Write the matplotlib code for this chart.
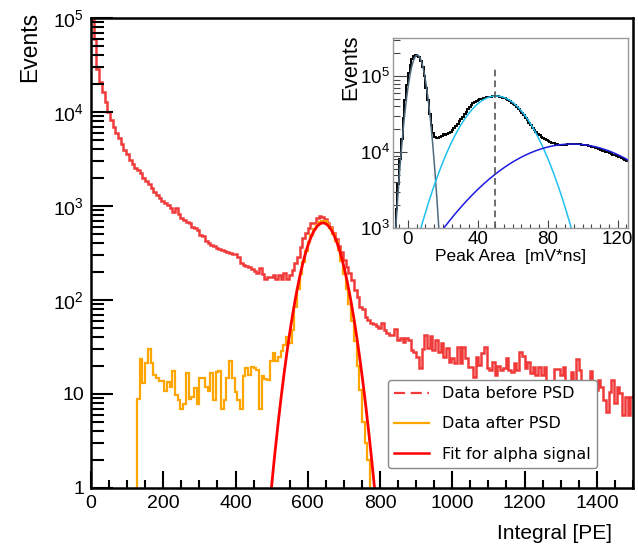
import numpy as np
import matplotlib.pyplot as plt
from matplotlib.lines import Line2D
from matplotlib.ticker import FixedLocator, MultipleLocator, LogLocator, NullFormatter

plt.rcParams['font.family'] = ['Liberation Sans', 'DejaVu Sans']
plt.rcParams['mathtext.fontset'] = 'custom'
plt.rcParams['mathtext.rm'] = 'Liberation Sans'
plt.rcParams['mathtext.it'] = 'Liberation Sans:italic'

# integral spectrum: 200 bins of 7.5 PE from 0 to 1500
bin_width = 7.5
before_psd = [
    95000, 60000, 29000, 21000, 16300, 12800, 10000, 8200, 6900, 6000,
    5300, 4600, 3900, 3600, 3100, 2800, 2540, 2400, 2240, 1990,
    1850, 1710, 1550, 1410, 1310, 1220, 1130, 1080, 1020, 953,
    863, 953, 822, 745, 708, 676, 660, 598, 584, 556,
    492, 480, 425, 404,
    385, 375, 357, 349, 340, 332, 324, 316, 312,
    308, 287, 248, 236, 230, 224, 214, 204, 194, 219,
    189, 167, 176, 176, 185, 167, 185, 167, 194, 167,
    185, 208, 248, 287, 366, 457, 516, 584, 660, 660,
    745, 783, 764, 728, 660, 598, 516, 446, 375, 324,
    267, 224, 194, 163, 128, 108,
    84, 80, 66, 61, 57, 56, 53, 50, 57, 48,
    45, 42, 42, 49, 37.5, 39.4, 35.7, 39.4, 37.5, 29.4,
    28, 24.8, 18.9, 30.1, 42, 30.9, 41.4, 29.4, 37.5, 28,
    34.9, 24.8, 30.9, 21.9, 24.1, 21.4, 31.6, 21.4, 31.6, 24.1,
    19.4, 19.4, 15.2, 24.8, 20.3, 27.3, 31.6, 18.9,
    18, 22, 16, 20,
    18, 18.9, 24.1, 18, 17.1, 21.4, 18, 28, 25.4, 18.9,
    21.9, 16.7, 19.4, 15.9, 19.4, 15.9, 19.4, 12, 11, 13,
    18.5, 18.5, 15.9, 19.4, 11.5, 13, 17.1, 12, 23.6, 18,
    12.5, 10.5, 13, 17.6, 12, 11,
    14.1, 11.9, 8.6, 6.4, 10.5, 14.1, 8.0, 11.9, 10.3, 6.0,
    9.3, 6.0, 9.3,
]

# after PSD only bins 17..102 are filled
after_first_bin = 17
after_psd = [
    8.85, 23.6, 13.1, 21.4, 30.1, 21.4, 15.9, 14.8, 13.7, 13.7,
    10.8, 13.4, 11.9, 17.6, 9.8, 8.6, 6.9, 7.8, 16.7, 8.85,
    9.3, 11.6, 7.8, 14.8, 14.8, 11.9, 10.8, 16.7, 8.6, 17.1,
    17.6, 6.9, 8.6, 14.8, 22.4, 14.8, 10.5, 8.6, 6.9, 15.5,
    18.9, 15.9, 19.4, 18.9, 18.0, 6.9, 15.5, 14.4, 14.1, 22.4,
    27.3, 22.4, 24.8, 28.7, 33.2, 40.4, 34.9, 48,
    85, 130, 190, 255, 330, 410, 490, 570, 630, 680,
    700, 690, 640, 580, 500, 420, 340, 260, 190, 130,
    90, 60, 37, 20, 11, 5, 3, 2,
]

# gaussian fit of the alpha peak: amplitude, mean, sigma, fit range
alpha_fit = [660.0, 642.0, 39.6]
alpha_range = [499.0, 785.0]

# SPE spectrum (inset), 1 mV*ns bins from -8 to 126, counts in thousands
spe_lo = -8.0
spe_width = 1.0
spe_counts_k = [
    0.8, 1.8, 3.8, 8, 15, 28, 48, 76, 112, 142,
    168, 183, 190, 188, 178, 158, 132, 100, 70, 48,
    32, 23, 18, 16, 15.5, 15.3, 15.8, 16.5, 17.5, 17,
    17.5, 17.8, 18.5, 19.5, 20.5, 22, 23.5, 25.5, 27, 29,
    31.5, 34, 37, 39.5, 42, 44, 45.5, 47, 48.5, 49.5,
    50.5, 51.5, 52.5, 53, 53.5, 54, 54.5, 55, 55, 54.5,
    54, 53, 52, 51, 50, 48.5, 47, 45, 43.5, 41.5,
    39.5, 37.5, 35, 33, 30.5, 28.5, 26.5, 24.5, 22.5, 21,
    19.5, 18.5, 17.5, 16.8, 16, 15.3, 14.8, 14.3, 13.9, 13.5,
    13.2, 13, 12.8, 12.7, 12.6, 12.6, 12.6, 12.5, 12.6, 12.7,
    12.7, 12.8, 12.8, 12.8, 12.8, 12.7, 12.7, 12.6, 12.5, 12.4,
    12.3, 12.1, 12, 11.8, 11.6, 11.4, 11.2, 11, 10.8, 10.5,
    10.3, 10.1, 9.9, 9.7, 9.5, 9.3, 9.1, 8.9, 8.7, 8.5,
    8.3, 8.1, 7.9, 7.7,
]

# pedestal, single PE and double PE gaussians: amplitude, mean, sigma
ped_fit = [1.9e5, 5.4, 3.8]
spe_fit = [5.5e4, 50.5, 15.2]
dpe_fit = [1.28e4, 94.0, 32.5]
spe_mean_line = 50.0


def gauss(x, a, mu, sig):
    return a * np.exp(-0.5 * ((x - mu) / sig) ** 2)


fig = plt.figure(figsize=(6.38, 5.45), dpi=100)
ax = fig.add_axes([0.1426, 0.1046, 0.8495, 0.8624])

edges = np.arange(len(before_psd) + 1) * bin_width
ax.stairs(before_psd, edges, baseline=None, color='#f03a3a', lw=1.8)

a_edges = (after_first_bin + np.arange(len(after_psd) + 1)) * bin_width
ax.stairs(after_psd, a_edges, baseline=0.1, color='orange', lw=1.6)

xf = np.linspace(alpha_range[0], alpha_range[1], 400)
ax.plot(xf, gauss(xf, *alpha_fit), color='red', lw=2.0)

ax.set_yscale('log')
ax.set_xlim(0, 1500)
ax.set_ylim(1, 1e5)

ax.xaxis.set_major_locator(MultipleLocator(200))
ax.xaxis.set_minor_locator(MultipleLocator(50))
ax.yaxis.set_major_locator(FixedLocator([1, 10, 100, 1e3, 1e4, 1e5]))
ax.set_yticklabels(['1', '10', r'$10^{2}$', r'$10^{3}$', r'$10^{4}$', r'$10^{5}$'])
ax.yaxis.set_minor_locator(LogLocator(base=10, subs=np.arange(2, 10)))
ax.yaxis.set_minor_formatter(NullFormatter())

ax.tick_params(which='both', direction='in', top=False, right=False,
               width=1.5, labelsize=14, color='black')
ax.tick_params(axis='x', which='major', length=12, pad=5)
ax.tick_params(axis='x', which='minor', length=6)
ax.tick_params(axis='y', which='major', length=16, pad=5)
ax.tick_params(axis='y', which='minor', length=9)
for sp in ax.spines.values():
    sp.set_linewidth(1.8)

ax.set_xlabel('Integral [PE]', fontsize=15, loc='right')
ax.xaxis.set_label_coords(0.9613, -0.0766)
ax.set_ylabel('Events', fontsize=16.5, loc='top')
ax.yaxis.set_label_coords(-0.0923, 1.0128)

handles = [
    Line2D([], [], color='#f03a3a', lw=1.6, ls=(0, (5, 2.5))),
    Line2D([], [], color='orange', lw=1.6),
    Line2D([], [], color='red', lw=1.8),
]
labels = ['Data before PSD', 'Data after PSD', 'Fit for alpha signal']
leg = ax.legend(handles, labels, loc='lower right',
                bbox_to_anchor=(0.9336, 0.0426), borderaxespad=0,
                prop={'family': 'DejaVu Sans', 'size': 11.5},
                handlelength=2.2, labelspacing=0.95, framealpha=1,
                edgecolor='#888888', fancybox=True)
leg.get_frame().set_linewidth(1.0)

# inset: single photoelectron spectrum
ins = fig.add_axes([0.616, 0.5817, 0.3683, 0.3486])
s_edges = spe_lo + np.arange(len(spe_counts_k) + 1) * spe_width
ins.stairs(np.array(spe_counts_k) * 1e3, s_edges, baseline=None,
           color='black', lw=1.4)
xs = np.linspace(-8.5, 126, 600)
ins.plot(xs, gauss(xs, *ped_fit), color='#4e6b7e', lw=1.1)
ins.plot(xs, gauss(xs, *spe_fit), color='#1ec0f0', lw=1.1)
ins.plot(xs, gauss(xs, *dpe_fit), color='#1c1ce0', lw=1.1)
ins.plot([spe_mean_line, spe_mean_line], [1e3, 1.23e5], color='#555555',
         lw=1.2, ls=(0, (4, 2.5)))

ins.set_yscale('log')
ins.set_xlim(-8.5, 126)
ins.set_ylim(1e3, 3.2e5)
ins.xaxis.set_major_locator(MultipleLocator(40))
ins.xaxis.set_minor_locator(MultipleLocator(5))
ins.yaxis.set_major_locator(FixedLocator([1e3, 1e4, 1e5]))
ins.set_yticklabels([r'$10^{3}$', r'$10^{4}$', r'$10^{5}$'])
ins.yaxis.set_minor_locator(LogLocator(base=10, subs=np.arange(2, 10)))
ins.yaxis.set_minor_formatter(NullFormatter())
ins.tick_params(which='both', direction='in', top=False, right=False,
                width=0.8, color='#444444', labelsize=13.5)
ins.tick_params(axis='x', which='major', length=6, pad=2)
ins.tick_params(axis='x', which='minor', length=3)
ins.tick_params(axis='y', which='major', length=10, pad=2)
ins.tick_params(axis='y', which='minor', length=5)
for sp in ins.spines.values():
    sp.set_color('#999999')
    sp.set_linewidth(1.0)
ins.set_xlabel('Peak Area  [mV*ns]', fontsize=12.5, labelpad=1)
ins.set_ylabel('Events', fontsize=15.5, loc='top')
ins.yaxis.set_label_coords(-0.136, 1.016)

fig.savefig('out.png', dpi=100)
